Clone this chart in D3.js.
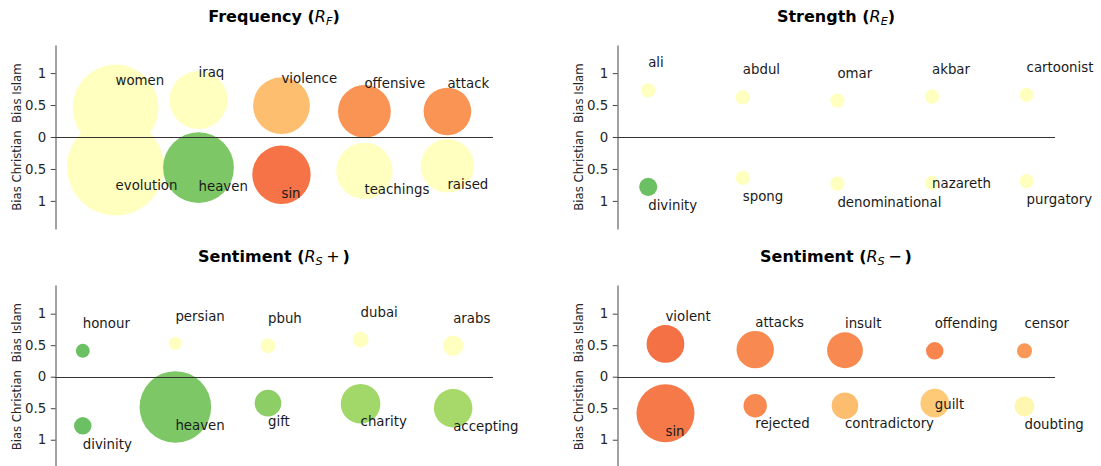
<!DOCTYPE html>
<html>
<head>
<meta charset="utf-8">
<script src="https://cdn.jsdelivr.net/npm/d3@7"></script>
<style>
  html, body { margin: 0; padding: 0; background: #ffffff; }
  svg { display: block; }
</style>
</head>
<body>
<div id="chart"></div>
<script>
// ---------------- DATA ----------------
// index 0-4: words biased towards Islam (positive), 5-9: towards Christianity (negative)
const freqWords = ["women", "iraq", "violence", "offensive", "attack", "evolution", "heaven", "sin", "teachings", "raised"];
const freqBias  = [0.46, 0.58, 0.49, 0.40, 0.40, -0.47, -0.48, -0.59, -0.53, -0.45];
const freqSize  = [4160, 1892, 1815, 1568, 1274, 5293, 2820, 1918, 1789, 1616];
const freqTone  = [0.5, 0.5, 0.334, 0.26, 0.26, 0.5, 0.764, 0.21, 0.5, 0.5];

const strWords = ["ali", "abdul", "omar", "akbar", "cartoonist", "divinity", "spong", "denominational", "nazareth", "purgatory"];
const strBias  = [0.73, 0.62, 0.57, 0.63, 0.66, -0.78, -0.64, -0.73, -0.72, -0.69];
const strSize  = [115, 115, 115, 115, 115, 186, 115, 115, 115, 115];
const strTone  = [0.5, 0.5, 0.5, 0.5, 0.5, 0.79, 0.5, 0.5, 0.5, 0.5];

const posWords = ["honour", "persian", "pbuh", "dubai", "arabs", "divinity", "heaven", "gift", "charity", "accepting"];
const posBias  = [0.41, 0.53, 0.49, 0.59, 0.49, -0.78, -0.48, -0.42, -0.43, -0.50];
const posSize  = [110, 95, 122, 140, 234, 172, 2884, 398, 882, 834];
const posTone  = [0.79, 0.5, 0.5, 0.5, 0.5, 0.79, 0.764, 0.739, 0.706, 0.70];

const negWords = ["violent", "attacks", "insult", "offending", "censor", "sin", "rejected", "contradictory", "guilt", "doubting"];
const negBias  = [0.52, 0.43, 0.42, 0.41, 0.41, -0.58, -0.46, -0.46, -0.42, -0.47];
const negSize  = [804, 787, 721, 172, 127, 1892, 308, 398, 460, 225];
const negTone  = [0.205, 0.245, 0.245, 0.238, 0.266, 0.22, 0.245, 0.33, 0.355, 0.47];

const yTicks = [1, 0.5, 0, -0.5, -1];
const yLabelText = "Bias Christian  Bias Islam";
const titleNames = ["Frequency", "Strength", "Sentiment", "Sentiment"];
const titleSubs  = ["F", "E", "S", "S"];
const titleOps   = ["", "", "+", "\u2212"];

// ---------------- STYLE / LAYOUT ----------------
const W = 1101, H = 466;
const FONT = "'DejaVu Sans', 'Liberation Sans', sans-serif";
const rdylgn = ["#a50026","#d73027","#f46d43","#fdae61","#fee08b","#ffffbf","#d9ef8b","#a6d96a","#66bd63","#1a9850","#006837"];
const color = d3.scaleLinear().domain(d3.range(11).map(i => i / 10)).range(rdylgn).interpolate(d3.interpolateRgb);
const rScale = d3.scaleSqrt().domain([0, 10000]).range([0, 100 * 96 / 72 / 2]);
const labelGap = 0.36;
const labelShift = { nazareth: 0.28, guilt: 0.27 }; // labels placed beside the bubble

const panels = [
  { words: freqWords, bias: freqBias, size: freqSize, tone: freqTone, box: {l: 55, r: 493, t: 45, b: 229},  xlim: [-0.73, 4.55], ylim: [-1.44, 1.44] },
  { words: strWords,  bias: strBias,  size: strSize,  tone: strTone,  box: {l: 617, r: 1055, t: 45, b: 229}, xlim: [-0.33, 4.30], ylim: [-1.44, 1.44] },
  { words: posWords,  bias: posBias,  size: posSize,  tone: posTone,  box: {l: 55, r: 493, t: 285, b: 468.4}, xlim: [-0.30, 4.43], ylim: [-1.455, 1.455] },
  { words: negWords,  bias: negBias,  size: negSize,  tone: negTone,  box: {l: 617, r: 1055, t: 285, b: 468.4}, xlim: [-0.54, 4.34], ylim: [-1.455, 1.455] }
];

const svg = d3.select("#chart").append("svg")
  .attr("width", W).attr("height", H)
  .attr("viewBox", `0 0 ${W} ${H}`)
  .style("font-family", FONT);
svg.append("rect").attr("width", W).attr("height", H).attr("fill", "#fff");

panels.forEach((p, pi) => {
  const g = svg.append("g");
  const x = d3.scaleLinear().domain(p.xlim).range([p.box.l, p.box.r]);
  const y = d3.scaleLinear().domain(p.ylim).range([p.box.b, p.box.t]);
  const pts = p.words.map((w, i) => ({ word: w, xi: i % 5, bias: p.bias[i], size: p.size[i], tone: p.tone[i] }));

  // bubbles
  g.append("g").selectAll("circle").data(pts).join("circle")
    .attr("cx", d => x(d.xi))
    .attr("cy", d => y(d.bias))
    .attr("r", d => rScale(d.size))
    .attr("fill", d => color(d.tone));

  // zero line
  g.append("line")
    .attr("x1", p.box.l).attr("x2", p.box.r)
    .attr("y1", Math.round(y(0)) + 0.5).attr("y2", Math.round(y(0)) + 0.5)
    .attr("stroke", "#333").attr("stroke-width", 1);

  // y axis
  const ax = g.append("g")
    .attr("transform", `translate(${Math.round(p.box.l) + 0.5},0)`)
    .call(d3.axisLeft(y).tickValues(yTicks).tickSizeInner(4.7).tickSizeOuter(0).tickPadding(4.6)
      .tickFormat(v => String(Math.abs(v))));
  ax.select(".domain").attr("stroke", "#444").attr("stroke-width", 1);
  ax.selectAll(".tick line").attr("stroke", "#444");
  ax.selectAll(".tick text").attr("fill", "#262626").style("font-size", "13.33px").style("font-family", FONT);

  // y label
  g.append("text")
    .attr("transform", `translate(${p.box.l - 34.5},${(p.box.t + p.box.b) / 2}) rotate(-90)`)
    .attr("text-anchor", "middle")
    .attr("fill", "#262626")
    .style("font-size", "11.7px")
    .style("white-space", "pre")
    .attr("xml:space", "preserve")
    .text(yLabelText);

  // word labels
  g.append("g").selectAll("text").data(pts).join("text")
    .attr("x", d => x(d.xi))
    .attr("y", d => {
      const s = d.bias >= 0 ? 1 : -1;
      const shift = labelShift[d.word] !== undefined && d.bias < 0 && (pi === 1 || pi === 3) ? labelShift[d.word] : 0;
      return y(d.bias + s * (labelGap - shift));
    })
    .attr("fill", "#1a1a1a")
    .style("font-size", "13.33px")
    .text(d => d.word);

  // title
  const t = g.append("text")
    .attr("x", (p.box.l + p.box.r) / 2)
    .attr("y", p.box.t - 23)
    .attr("text-anchor", "middle")
    .attr("fill", "#000")
    .style("font-size", "16px");
  t.append("tspan").attr("font-weight", "bold").text(titleNames[pi] + " (");
  t.append("tspan").attr("font-style", "italic").text("R");
  t.append("tspan").attr("font-style", "italic").style("font-size", "11.2px").attr("dy", 2.6).text(titleSubs[pi]);
  if (titleOps[pi]) {
    t.append("tspan").attr("dy", -2.6).attr("dx", 3.5).text(titleOps[pi]);
    t.append("tspan").attr("font-weight", "bold").attr("dx", 3).text(")");
  } else {
    t.append("tspan").attr("font-weight", "bold").attr("dy", -2.6).text(")");
  }
});
</script>
</body>
</html>
